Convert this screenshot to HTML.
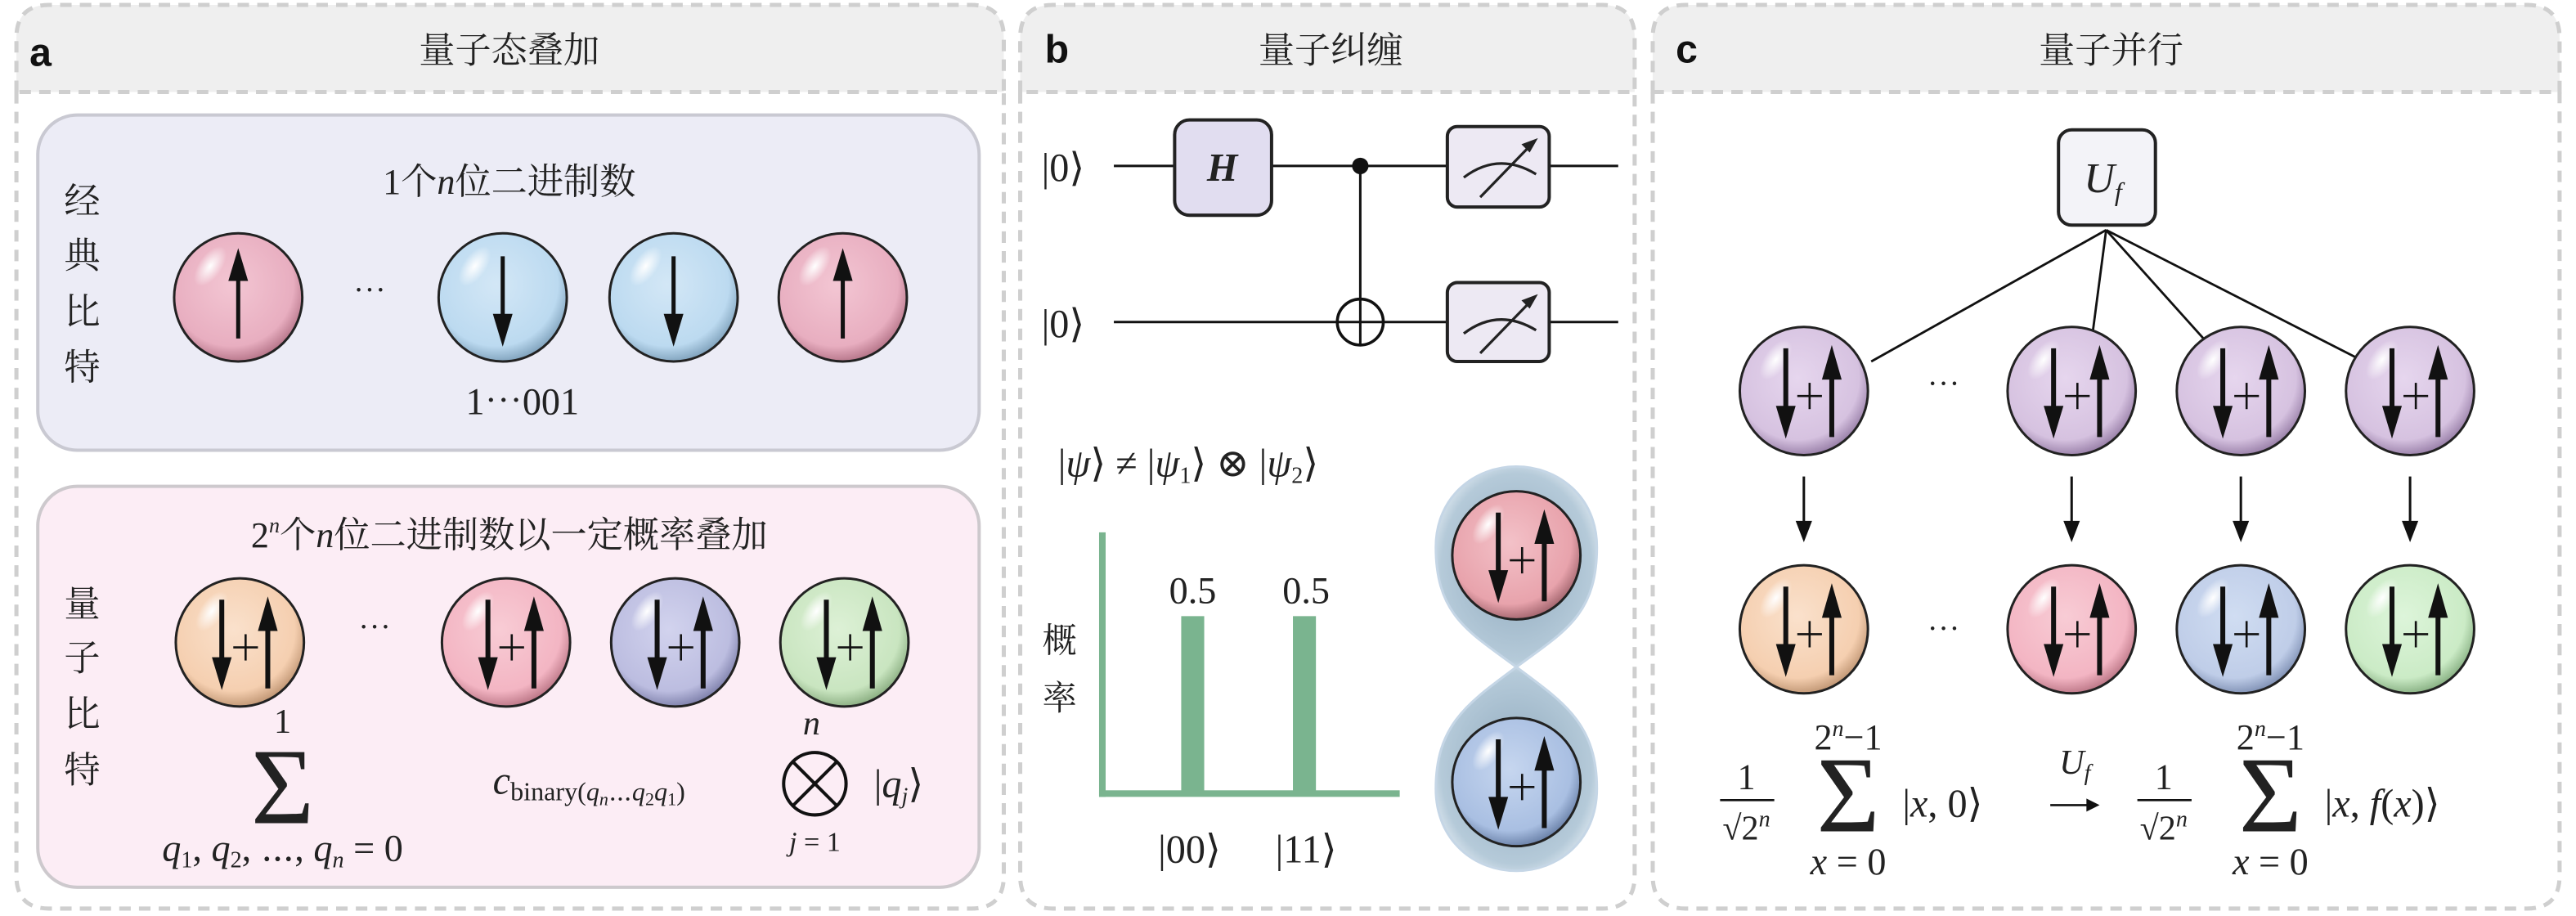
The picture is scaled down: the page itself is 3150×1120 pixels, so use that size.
<!DOCTYPE html>
<html><head><meta charset="utf-8"><style>
html,body{margin:0;padding:0;background:#fff}
svg{display:block}
svg text{font-family:"Liberation Serif","DejaVu Serif","Noto Serif CJK SC","Noto Sans CJK SC",serif}
svg text.sans{font-family:"Liberation Sans","DejaVu Sans",sans-serif}
</style></head><body>
<svg width="3150" height="1120" viewBox="0 0 1568 557.5" xmlns="http://www.w3.org/2000/svg" fill="#222">
<defs>
<radialGradient id="gpk" cx="45%" cy="40%" r="60%"><stop offset="0" stop-color="#f3c6d3"/><stop offset="0.8" stop-color="#e8aec0"/><stop offset="1" stop-color="#b9798d"/></radialGradient>
<radialGradient id="gbl" cx="45%" cy="40%" r="60%"><stop offset="0" stop-color="#d3e7f6"/><stop offset="0.8" stop-color="#bcdaf0"/><stop offset="1" stop-color="#84a6c0"/></radialGradient>
<radialGradient id="gor" cx="45%" cy="40%" r="60%"><stop offset="0" stop-color="#fae1cc"/><stop offset="0.8" stop-color="#f5cfb0"/><stop offset="1" stop-color="#c49a78"/></radialGradient>
<radialGradient id="grd" cx="45%" cy="40%" r="60%"><stop offset="0" stop-color="#f8ccd5"/><stop offset="0.8" stop-color="#f3b5c3"/><stop offset="1" stop-color="#c07b8b"/></radialGradient>
<radialGradient id="glv" cx="45%" cy="40%" r="60%"><stop offset="0" stop-color="#d2d3ee"/><stop offset="0.8" stop-color="#bcbde0"/><stop offset="1" stop-color="#8385af"/></radialGradient>
<radialGradient id="ggr" cx="45%" cy="40%" r="60%"><stop offset="0" stop-color="#ddf1d6"/><stop offset="0.8" stop-color="#c9e5c0"/><stop offset="1" stop-color="#8fb286"/></radialGradient>
<radialGradient id="gpu" cx="45%" cy="40%" r="60%"><stop offset="0" stop-color="#e6d6ee"/><stop offset="0.8" stop-color="#d6c2e0"/><stop offset="1" stop-color="#9d84ac"/></radialGradient>
<radialGradient id="gbc" cx="45%" cy="40%" r="60%"><stop offset="0" stop-color="#d0ddf2"/><stop offset="0.8" stop-color="#bfcde8"/><stop offset="1" stop-color="#8495b8"/></radialGradient>
<radialGradient id="gcg" cx="45%" cy="40%" r="60%"><stop offset="0" stop-color="#ddf5da"/><stop offset="0.8" stop-color="#cbebc6"/><stop offset="1" stop-color="#8cb487"/></radialGradient>
<radialGradient id="gep" cx="45%" cy="40%" r="60%"><stop offset="0" stop-color="#f3c1c8"/><stop offset="0.8" stop-color="#e8a3ac"/><stop offset="1" stop-color="#a86a73"/></radialGradient>
<radialGradient id="geb" cx="45%" cy="40%" r="60%"><stop offset="0" stop-color="#c6d6ef"/><stop offset="0.8" stop-color="#a9bfe2"/><stop offset="1" stop-color="#6f86ad"/></radialGradient>
<radialGradient id="gtd" cx="50%" cy="50%" r="55%"><stop offset="0" stop-color="#8fa9bd"/><stop offset="0.85" stop-color="#b5cad9"/><stop offset="1" stop-color="#d7e3ec"/></radialGradient>
<radialGradient id="ghl" cx="50%" cy="50%" r="50%"><stop offset="0" stop-color="#fff" stop-opacity="1"/><stop offset="1" stop-color="#fff" stop-opacity="0"/></radialGradient>
<g id="hl"><ellipse cx="-17" cy="-19" rx="7" ry="14" transform="rotate(35 -17 -19)" fill="url(#ghl)" stroke="none"/></g>
<g id="sup" stroke="#111" fill="#111">
<line x1="-11" y1="-26" x2="-11" y2="12" stroke-width="3"/><polygon points="-17,9 -5,9 -11,29" stroke="none"/>
<line x1="-4" y1="3" x2="11" y2="3" stroke-width="1.3"/><line x1="3.5" y1="-5" x2="3.5" y2="11" stroke-width="1.3"/>
<line x1="17" y1="28" x2="17" y2="-10" stroke-width="3"/><polygon points="11,-7 23,-7 17,-28" stroke="none"/>
</g>
<g id="up" stroke="#111" fill="#111"><line x1="0" y1="25" x2="0" y2="-12" stroke-width="2.5"/><polygon points="-6,-10 6,-10 0,-30" stroke="none"/></g>
<g id="dn" stroke="#111" fill="#111"><line x1="0" y1="-25" x2="0" y2="12" stroke-width="2.5"/><polygon points="-6,10 6,10 0,30" stroke="none"/></g>
</defs>

<g stroke="#cfcfcf" stroke-width="2.5" stroke-dasharray="7,5">
<path d="M10,56 V23 Q10,3 30,3 H591 Q611,3 611,23 V56 Z" fill="#efefef"/>
<path d="M621,56 V23 Q621,3 641,3 H975 Q995,3 995,23 V56 Z" fill="#efefef"/>
<path d="M1006,56 V23 Q1006,3 1026,3 H1538 Q1558,3 1558,23 V56 Z" fill="#efefef"/>
<path d="M10,56 V533 Q10,553 30,553 H591 Q611,553 611,533 V56" fill="none"/>
<path d="M621,56 V533 Q621,553 641,553 H975 Q995,553 995,533 V56" fill="none"/>
<path d="M1006,56 V533 Q1006,553 1026,553 H1538 Q1558,553 1558,533 V56" fill="none"/>
</g>
<g font-weight="bold" fill="#111" font-size="24">
<text class="sans" x="18" y="40">a</text><text class="sans" x="636" y="38">b</text><text class="sans" x="1020" y="38">c</text>
</g>
<g font-size="22" text-anchor="middle">
<text x="310" y="38">量子态叠加</text>
<text x="810" y="38">量子纠缠</text>
<text x="1285" y="38">量子并行</text>
</g>

<!-- Panel a -->
<rect x="23" y="70" width="573" height="204" rx="24" fill="#ececf6" stroke="#c9c9d2" stroke-width="2"/>
<rect x="23" y="296" width="573" height="244" rx="24" fill="#fcedf5" stroke="#cdc9cd" stroke-width="2"/>
<g font-size="22" text-anchor="middle">
<text x="50" y="130">经</text><text x="50" y="163">典</text><text x="50" y="197">比</text><text x="50" y="231">特</text>
<text x="50" y="375">量</text><text x="50" y="408">子</text><text x="50" y="442">比</text><text x="50" y="476">特</text>
</g>
<text x="310" y="118" font-size="22" text-anchor="middle">1个<tspan font-style="italic">n</tspan>位二进制数</text>
<text x="318" y="252" font-size="23" text-anchor="middle">1⋯001</text>
<text x="225" y="184" font-size="20" text-anchor="middle">⋯</text>
<g stroke="#222" stroke-width="1.5">
<g transform="translate(145,181)"><circle r="39" fill="url(#gpk)"/><use href="#hl"/><use href="#up"/></g>
<g transform="translate(306,181)"><circle r="39" fill="url(#gbl)"/><use href="#hl"/><use href="#dn"/></g>
<g transform="translate(410,181)"><circle r="39" fill="url(#gbl)"/><use href="#hl"/><use href="#dn"/></g>
<g transform="translate(513,181)"><circle r="39" fill="url(#gpk)"/><use href="#hl"/><use href="#up"/></g>
</g>
<text x="310" y="333" font-size="22" text-anchor="middle">2<tspan font-size="13" dy="-9" font-style="italic">n</tspan><tspan dy="9">个</tspan><tspan font-style="italic">n</tspan>位二进制数以一定概率叠加</text>
<text x="228" y="389" font-size="20" text-anchor="middle">⋯</text>
<g stroke="#222" stroke-width="1.5">
<g transform="translate(146,391)"><circle r="39" fill="url(#gor)"/><use href="#hl"/><use href="#sup"/></g>
<g transform="translate(308,391)"><circle r="39" fill="url(#grd)"/><use href="#hl"/><use href="#sup"/></g>
<g transform="translate(411,391)"><circle r="39" fill="url(#glv)"/><use href="#hl"/><use href="#sup"/></g>
<g transform="translate(514,391)"><circle r="39" fill="url(#ggr)"/><use href="#hl"/><use href="#sup"/></g>
</g>
<text x="172" y="446" font-size="21" text-anchor="middle">1</text>
<text x="172" y="501" font-size="66" text-anchor="middle">Σ</text>
<text x="172" y="524" font-size="23" text-anchor="middle" font-style="italic">q<tspan font-size="14" font-style="normal" dy="4">1</tspan><tspan dy="-4" font-style="normal">, </tspan>q<tspan font-size="14" font-style="normal" dy="4">2</tspan><tspan dy="-4" font-style="normal">, ⋯, </tspan>q<tspan font-size="14" dy="4">n</tspan><tspan dy="-4" font-style="normal"> = 0</tspan></text>
<text x="300" y="483" font-size="24"><tspan font-style="italic">c</tspan><tspan font-size="16" dy="4">binary(<tspan font-style="italic">q</tspan><tspan font-size="11" dy="3" font-style="italic">n</tspan><tspan dy="-3">⋯</tspan><tspan font-style="italic">q</tspan><tspan font-size="11" dy="3">2</tspan><tspan dy="-3" font-style="italic">q</tspan><tspan font-size="11" dy="3">1</tspan><tspan dy="-3">)</tspan></tspan></text>
<g stroke="#111" stroke-width="2" fill="none"><circle cx="496" cy="477" r="19"/><line x1="483" y1="464" x2="509" y2="490"/><line x1="509" y1="464" x2="483" y2="490"/></g>
<text x="494" y="447" font-size="21" text-anchor="middle" font-style="italic">n</text>
<text x="496" y="518" font-size="17" text-anchor="middle"><tspan font-style="italic">j</tspan> = 1</text>
<text x="532" y="485" font-size="24">|<tspan font-style="italic">q</tspan><tspan font-size="14" font-style="italic" dy="4">j</tspan><tspan dy="-4">⟩</tspan></text>

<!-- Panel b -->
<g stroke="#111" stroke-width="1.5" fill="none">
<line x1="678" y1="101" x2="985" y2="101"/><line x1="678" y1="196" x2="985" y2="196"/>
<line x1="828" y1="101" x2="828" y2="210"/>
</g>
<text x="634" y="110" font-size="24">|0⟩</text>
<text x="634" y="205" font-size="24">|0⟩</text>
<rect x="715" y="73" width="59" height="58" rx="9" fill="#e1ddf0" stroke="#222" stroke-width="2"/>
<text x="744" y="110" font-size="24" text-anchor="middle" font-weight="bold" font-style="italic">H</text>
<circle cx="828" cy="101" r="5" fill="#111"/>
<circle cx="828" cy="196" r="14" fill="#fff" stroke="#111" stroke-width="1.8"/>
<line x1="828" y1="182" x2="828" y2="210" stroke="#111" stroke-width="1.5"/>
<line x1="814" y1="196" x2="842" y2="196" stroke="#111" stroke-width="1.5"/>
<g stroke="#222" stroke-width="2">
<rect x="881" y="77" width="62" height="49" rx="6" fill="#ede9f3"/>
<rect x="881" y="172" width="62" height="48" rx="6" fill="#ede9f3"/>
<g fill="none" stroke-width="1.6">
<path d="M891,108 Q912,92 935,106"/><line x1="901" y1="120" x2="934" y2="86"/>
<path d="M891,203 Q912,187 935,201"/><line x1="901" y1="215" x2="934" y2="181"/>
</g>
<polygon points="935,85 927,88 931,92" fill="#222" stroke-width="1"/>
<polygon points="935,180 927,183 931,187" fill="#222" stroke-width="1"/>
</g>
<text x="644" y="290" font-size="24">|<tspan font-style="italic">ψ</tspan>⟩ ≠ |<tspan font-style="italic">ψ</tspan><tspan font-size="14" dy="4">1</tspan><tspan dy="-4">⟩ ⊗ |</tspan><tspan font-style="italic">ψ</tspan><tspan font-size="14" dy="4">2</tspan><tspan dy="-4">⟩</tspan></text>
<g fill="#7ab48f">
<rect x="669" y="324" width="4" height="161"/><rect x="669" y="481" width="183" height="4"/>
<rect x="719" y="375" width="14" height="108"/><rect x="787" y="375" width="14" height="108"/>
</g>
<text x="726" y="367" font-size="23" text-anchor="middle">0.5</text>
<text x="795" y="367" font-size="23" text-anchor="middle">0.5</text>
<text x="645" y="397" font-size="21" text-anchor="middle">概</text>
<text x="645" y="432" font-size="21" text-anchor="middle">率</text>
<text x="724" y="525" font-size="24" text-anchor="middle">|00⟩</text>
<text x="795" y="525" font-size="24" text-anchor="middle">|11⟩</text>
<path d="M923,406 C895,385 874,375 874,333 C874,302 898,284 923,284 C948,284 972,302 972,333 C972,375 951,385 923,406 Z" fill="url(#gtd)" stroke="#c5d6e6" stroke-width="1.5"/>
<path d="M923,406 C895,427 874,440 874,480 C874,512 898,530 923,530 C948,530 972,512 972,480 C972,440 951,427 923,406 Z" fill="url(#gtd)" stroke="#c5d6e6" stroke-width="1.5"/>
<g stroke="#222" stroke-width="1.5">
<g transform="translate(923,338)"><circle r="39" fill="url(#gep)"/><use href="#hl"/><use href="#sup"/></g>
<g transform="translate(923,476)"><circle r="39" fill="url(#geb)"/><use href="#hl"/><use href="#sup"/></g>
</g>

<!-- Panel c -->
<g stroke="#111" stroke-width="1.4">
<line x1="1282" y1="140" x2="1139" y2="220"/>
<line x1="1282" y1="140" x2="1274" y2="201"/>
<line x1="1282" y1="140" x2="1343" y2="208"/>
<line x1="1282" y1="140" x2="1437" y2="219"/>
</g>
<rect x="1253" y="79" width="59" height="58" rx="8" fill="#f3f3f8" stroke="#222" stroke-width="2"/>
<text x="1280" y="117" font-size="26" text-anchor="middle" font-style="italic">U<tspan font-size="16" dy="5">f</tspan></text>
<g stroke="#222" stroke-width="1.5">
<g transform="translate(1098,238)"><circle r="39" fill="url(#gpu)"/><use href="#hl"/><use href="#sup"/></g>
<g transform="translate(1261,238)"><circle r="39" fill="url(#gpu)"/><use href="#hl"/><use href="#sup"/></g>
<g transform="translate(1364,238)"><circle r="39" fill="url(#gpu)"/><use href="#hl"/><use href="#sup"/></g>
<g transform="translate(1467,238)"><circle r="39" fill="url(#gpu)"/><use href="#hl"/><use href="#sup"/></g>
<g transform="translate(1098,383)"><circle r="39" fill="url(#gor)"/><use href="#hl"/><use href="#sup"/></g>
<g transform="translate(1261,383)"><circle r="39" fill="url(#grd)"/><use href="#hl"/><use href="#sup"/></g>
<g transform="translate(1364,383)"><circle r="39" fill="url(#gbc)"/><use href="#hl"/><use href="#sup"/></g>
<g transform="translate(1467,383)"><circle r="39" fill="url(#gcg)"/><use href="#hl"/><use href="#sup"/></g>
</g>
<text x="1183" y="241" font-size="20" text-anchor="middle">⋯</text>
<text x="1183" y="390" font-size="20" text-anchor="middle">⋯</text>
<g stroke="#111" stroke-width="1.5" fill="#111">
<line x1="1098" y1="290" x2="1098" y2="320"/><polygon points="1093,317 1103,317 1098,330" stroke="none"/>
<line x1="1261" y1="290" x2="1261" y2="320"/><polygon points="1256,317 1266,317 1261,330" stroke="none"/>
<line x1="1364" y1="290" x2="1364" y2="320"/><polygon points="1359,317 1369,317 1364,330" stroke="none"/>
<line x1="1467" y1="290" x2="1467" y2="320"/><polygon points="1462,317 1472,317 1467,330" stroke="none"/>
</g>
<g>
<text x="1063" y="480" font-size="22" text-anchor="middle">1</text>
<line x1="1047" y1="487" x2="1080" y2="487" stroke="#111" stroke-width="1.3"/>
<text x="1063" y="511" font-size="21" text-anchor="middle">√2<tspan font-size="14" dy="-8" font-style="italic">n</tspan></text>
<text x="1125" y="456" font-size="22" text-anchor="middle">2<tspan font-size="14" font-style="italic" dy="-8">n</tspan><tspan dy="8">−1</tspan></text>
<text x="1125" y="506" font-size="66" text-anchor="middle">Σ</text>
<text x="1125" y="532" font-size="23" text-anchor="middle"><tspan font-style="italic">x</tspan> = 0</text>
<text x="1158" y="497" font-size="24">|<tspan font-style="italic">x</tspan>, 0⟩</text>
<text x="1263" y="471" font-size="21" text-anchor="middle" font-style="italic">U<tspan font-size="14" dy="4">f</tspan></text>
<line x1="1248" y1="490" x2="1276" y2="490" stroke="#111" stroke-width="1.3"/>
<polygon points="1278,490 1270,486 1270,494" fill="#111"/>
<text x="1317" y="480" font-size="22" text-anchor="middle">1</text>
<line x1="1301" y1="487" x2="1334" y2="487" stroke="#111" stroke-width="1.3"/>
<text x="1317" y="511" font-size="21" text-anchor="middle">√2<tspan font-size="14" dy="-8" font-style="italic">n</tspan></text>
<text x="1382" y="456" font-size="22" text-anchor="middle">2<tspan font-size="14" font-style="italic" dy="-8">n</tspan><tspan dy="8">−1</tspan></text>
<text x="1382" y="506" font-size="66" text-anchor="middle">Σ</text>
<text x="1382" y="532" font-size="23" text-anchor="middle"><tspan font-style="italic">x</tspan> = 0</text>
<text x="1415" y="497" font-size="24">|<tspan font-style="italic">x</tspan>, <tspan font-style="italic">f</tspan>(<tspan font-style="italic">x</tspan>)⟩</text>
</g>
</svg>
</body></html>
